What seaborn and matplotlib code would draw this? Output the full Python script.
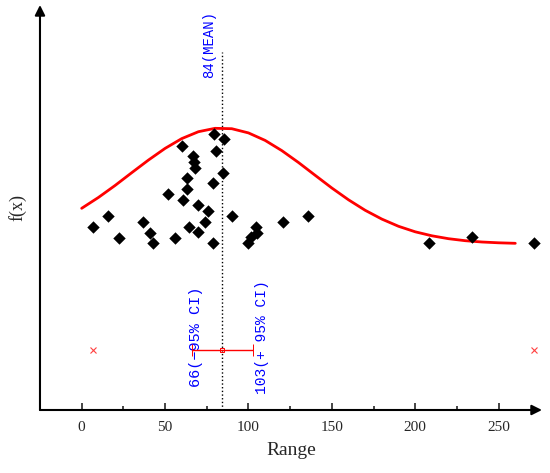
import numpy as np
import matplotlib
matplotlib.use("Agg")
import matplotlib.pyplot as plt
import seaborn as sns

sns.set_style("white")
plt.rcParams["font.family"] = ["Liberation Serif", "DejaVu Serif"]
plt.rcParams["axes.unicode_minus"] = False

# sample values (Range) and their plotted height
range_vals = [7, 16, 22.2, 37, 41, 43, 52, 56, 60.4, 61, 63, 63, 64.2, 67, 67.4, 68,
              70, 70, 74.2, 76, 79, 79, 79.6, 80.8, 85, 85.4, 90.2, 100, 101.4, 104.4,
              105.4, 121, 136, 208.3, 234.3, 271.3]
fx_vals = [183, 194, 172, 188, 177, 167, 216, 172, 264, 210, 232, 221, 183, 254, 248, 242,
           205, 178, 188, 199, 227, 167, 276, 259, 237, 271, 194, 167, 173, 183,
           177, 188, 194, 167, 173, 167]

# fitted curve, every 10 units
curve_x = [0, 10, 20, 30, 40, 50, 60, 70, 80, 90, 100, 110, 120, 130,
           140, 150, 160, 170, 180, 190, 200, 210, 220, 230, 240, 250, 260]
curve_y = [201.7, 212.5, 224.5, 237.3, 249.9, 261.6, 271.4, 278.3, 281.7, 281.3, 277.1,
           269.6, 259.4, 247.5, 234.7, 222.0, 210.2, 199.7, 190.9, 183.7, 178.2, 174.2,
           171.3, 169.3, 168.0, 167.2, 166.7]

# summary stats
mean_val = 84
ci_low = 66
ci_high = 103
data_min = 7
data_max = 271.3
stats_y = 60
mean_line_top = 358

fig = plt.figure(figsize=(5.5, 4.73), dpi=100)
ax = fig.add_axes([0.0727, 0.1332, 0.9127, 0.8562])

sns.lineplot(x=curve_x, y=curve_y, ax=ax, color="red", linewidth=2, zorder=2)
sns.scatterplot(x=range_vals, y=fx_vals, ax=ax, marker="D", color="black",
                s=40, edgecolor="black", linewidth=0, zorder=3)

ax.vlines(mean_val, 0, mean_line_top, colors="black", linestyles=":", linewidth=1, zorder=1)

# CI bar + min/max
ax.errorbar(mean_val, stats_y, xerr=[[mean_val - ci_low], [ci_high - mean_val]],
            fmt="s", ms=3.5, mfc="none", mec="red", mew=0.7, ecolor="red",
            elinewidth=1, capsize=4, capthick=1, zorder=4)
ax.plot([data_min, data_max], [stats_y, stats_y], ls="none", marker="x",
        color="#ff4040", ms=4.5, mew=0.8, zorder=4)

mono = ["Liberation Mono", "DejaVu Sans Mono"]
ax.text(76.5, 366, "84(MEAN)", rotation=90, ha="center", va="center",
        color="blue", fontsize=10, family=mono)
ax.text(68.5, 73.5, "66(\u221295% CI)", rotation=90, ha="center", va="center",
        color="blue", fontsize=11, family=mono)
ax.text(108, 72.5, "103(+ 95% CI)", rotation=90, ha="center", va="center",
        color="blue", fontsize=10.5, family=mono)

ax.set_xlim(-25, 276)
ax.set_ylim(0, 405)
ax.set_xticks([0, 50, 100, 150, 200, 250])
ax.set_xticks([25, 75, 125, 175, 225], minor=True)
ax.set_yticks([])
ax.tick_params(axis="x", which="major", direction="in", length=5, width=1.2,
               pad=8, labelsize=11)
ax.tick_params(axis="x", which="minor", direction="in", length=3, width=1.2)
ax.tick_params(axis="x", bottom=True, which="both")

for sp in ax.spines.values():
    sp.set_visible(False)

arrow = dict(arrowstyle="-|>", color="black", lw=1.5, mutation_scale=15,
             shrinkA=0, shrinkB=0)
ax.annotate("", xy=(1, 0), xytext=(0, 0), xycoords="axes fraction", arrowprops=arrow)
ax.annotate("", xy=(0, 1), xytext=(0, 0), xycoords="axes fraction", arrowprops=arrow)

ax.set_xlabel("Range", fontsize=14, labelpad=6)
ax.set_ylabel("f(x)", fontsize=13, labelpad=10)

fig.savefig("out.png", dpi=100)
